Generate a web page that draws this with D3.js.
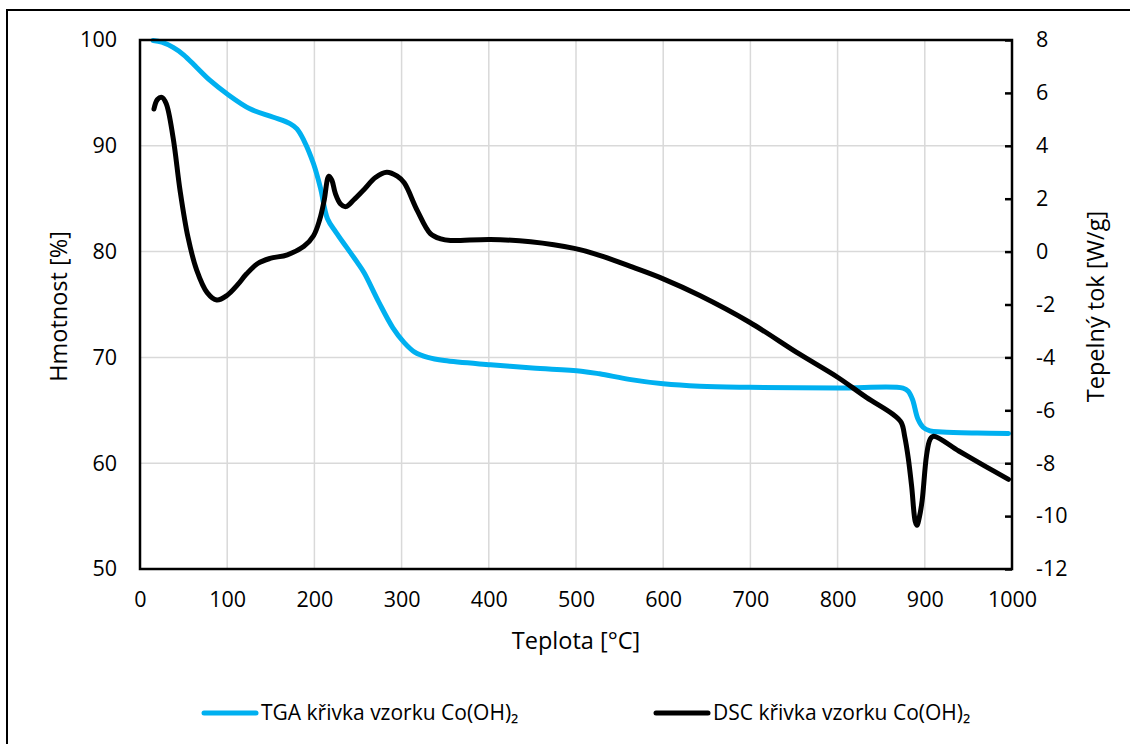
<!DOCTYPE html>
<html>
<head>
<meta charset="utf-8">
<script src="https://cdn.jsdelivr.net/npm/d3@7"></script>
<style>
  html, body { margin: 0; padding: 0; background: #fff; }
  svg text { font-family: "Open Sans", "Noto Sans", sans-serif; fill: #000; }
</style>
</head>
<body>
<svg id="chart" width="1130" height="744"></svg>
<script>
// Thermogravimetric (TGA) curve: temperature [°C] and remaining mass [%]
const tgaTemp = [15, 25, 38, 50, 65, 80, 100, 126, 153, 172, 180, 188, 199, 207, 215, 225, 237, 249, 257, 274, 290, 303, 315, 330, 349, 402, 450, 506, 527, 563, 600, 642, 699, 800, 875, 881, 886, 892, 898, 906, 920, 960, 996];
const tgaMass = [99.95, 99.8, 99.3, 98.6, 97.4, 96.2, 94.9, 93.5, 92.7, 92.1, 91.6, 90.5, 88.3, 86.0, 83.1, 81.8, 80.4, 79.0, 78.0, 75.2, 72.8, 71.4, 70.5, 70.0, 69.7, 69.3, 69.0, 68.7, 68.45, 67.9, 67.5, 67.27, 67.17, 67.1, 67.1, 66.8, 66.0, 64.2, 63.4, 63.05, 62.95, 62.85, 62.8];

// Differential scanning calorimetry (DSC) curve: temperature [°C] and heat flow [W/g]
const dscTemp = [16, 20, 25, 30, 38, 46, 55, 65, 77, 88, 100, 112, 122, 135, 149, 169, 188, 199, 206, 211, 216.5, 220, 224, 230, 236, 245, 257, 270, 283, 295, 303, 318, 333, 345, 356, 402, 448, 498, 527, 565, 600, 642, 699, 756, 800, 833, 863, 873, 877, 881, 885, 889, 891, 894, 897, 902, 906, 910, 939, 969, 996];
const dscFlow = [5.39, 5.75, 5.83, 5.6, 4.3, 2.3, 0.55, -0.7, -1.55, -1.83, -1.65, -1.25, -0.85, -0.45, -0.26, -0.12, 0.2, 0.6, 1.2, 1.9, 2.85, 2.7, 2.2, 1.8, 1.7, 1.95, 2.35, 2.8, 3.0, 2.85, 2.6, 1.55, 0.68, 0.48, 0.42, 0.46, 0.37, 0.12, -0.14, -0.59, -1.03, -1.66, -2.67, -3.87, -4.75, -5.51, -6.14, -6.46, -7.0, -7.8, -8.9, -10.2, -10.35, -10.0, -9.4, -7.7, -7.1, -6.98, -7.54, -8.11, -8.61];

// Axis ticks
const xTicks = [0, 100, 200, 300, 400, 500, 600, 700, 800, 900, 1000];
const massTicks = [50, 60, 70, 80, 90, 100];
const flowTicks = [-12, -10, -8, -6, -4, -2, 0, 2, 4, 6, 8];

// Labels
const xTitle = "Teplota [°C]";
const massTitle = "Hmotnost [%]";
const flowTitle = "Tepelný tok [W/g]";
const seriesNames = ["TGA křivka vzorku Co(OH)₂", "DSC křivka vzorku Co(OH)₂"];
const seriesColors = ["#00B0F0", "#000000"];

const svg = d3.select("#chart");
const plot = { left: 140, right: 1012, top: 40, bottom: 569 };

const x = d3.scaleLinear().domain([0, 1000]).range([plot.left, plot.right]);
const yMass = d3.scaleLinear().domain([50, 100]).range([plot.bottom, plot.top]);
const yFlow = d3.scaleLinear().domain([-12, 8]).range([plot.bottom, plot.top]);

// Outer chart border
svg.append("rect")
  .attr("x", 7).attr("y", 10).attr("width", 1135).attr("height", 745)
  .attr("fill", "none").attr("stroke", "#000").attr("stroke-width", 2);

// Gridlines
const grid = svg.append("g").attr("stroke", "#d9d9d9").attr("stroke-width", 1.5);
grid.selectAll("line.v").data(xTicks.slice(1, -1)).join("line")
  .attr("x1", d => x(d)).attr("x2", d => x(d))
  .attr("y1", plot.top).attr("y2", plot.bottom);
grid.selectAll("line.h").data(massTicks.slice(1, -1)).join("line")
  .attr("x1", plot.left).attr("x2", plot.right)
  .attr("y1", d => yMass(d)).attr("y2", d => yMass(d));

// Curves
const curve = d3.curveCatmullRom.alpha(0.5);
const tgaLine = d3.line().curve(curve).x((d, i) => x(tgaTemp[i])).y(d => yMass(d));
const dscLine = d3.line().curve(curve).x((d, i) => x(dscTemp[i])).y(d => yFlow(d));

svg.append("path").datum(tgaMass)
  .attr("d", tgaLine).attr("fill", "none")
  .attr("stroke", seriesColors[0]).attr("stroke-width", 5)
  .attr("stroke-linejoin", "round").attr("stroke-linecap", "round");
svg.append("path").datum(dscFlow)
  .attr("d", dscLine).attr("fill", "none")
  .attr("stroke", seriesColors[1]).attr("stroke-width", 5)
  .attr("stroke-linejoin", "round").attr("stroke-linecap", "round");

// Plot frame
svg.append("rect")
  .attr("x", plot.left).attr("y", plot.top)
  .attr("width", plot.right - plot.left).attr("height", plot.bottom - plot.top)
  .attr("fill", "none").attr("stroke", "#000").attr("stroke-width", 2.5);

// Axes
const fontSize = 21.5;
const xAxis = svg.append("g").attr("transform", `translate(0,${plot.bottom})`)
  .call(d3.axisBottom(x).tickValues(xTicks).tickSize(0).tickPadding(23).tickFormat(d3.format("d")));
const leftAxis = svg.append("g").attr("transform", `translate(${plot.left},0)`)
  .call(d3.axisLeft(yMass).tickValues(massTicks).tickSize(0).tickPadding(23).tickFormat(d3.format("d")));
const rightAxis = svg.append("g").attr("transform", `translate(${plot.right},0)`)
  .call(d3.axisRight(yFlow).tickValues(flowTicks).tickSize(-7).tickPadding(24).tickFormat(d3.format("d")));

[xAxis, leftAxis, rightAxis].forEach(a => {
  a.select(".domain").remove();
  a.selectAll("text").attr("font-size", fontSize).attr("font-family", null).style("fill", "#000");
  a.selectAll("line").attr("stroke", "#000").attr("stroke-width", 2.5);
});
rightAxis.selectAll("text").text(d => d < 0 ? "-" + Math.abs(d) : d);

// Axis titles
const titleSize = 23.5;
svg.append("text").attr("x", x(500)).attr("y", 649)
  .attr("text-anchor", "middle").attr("font-size", titleSize).text(xTitle);
svg.append("text").attr("transform", `translate(67,${(plot.top + plot.bottom) / 2 + 2}) rotate(-90)`)
  .attr("text-anchor", "middle").attr("font-size", titleSize).text(massTitle);
svg.append("text").attr("transform", `translate(1104,${(plot.top + plot.bottom) / 2 + 2}) rotate(-90)`)
  .attr("text-anchor", "middle").attr("font-size", titleSize).text(flowTitle);

// Legend
const legendItems = [
  { name: seriesNames[0], color: seriesColors[0], x0: 204 },
  { name: seriesNames[1], color: seriesColors[1], x0: 656 }
];
const legend = svg.append("g");
legendItems.forEach(item => {
  legend.append("line")
    .attr("x1", item.x0).attr("x2", item.x0 + 52)
    .attr("y1", 713).attr("y2", 713)
    .attr("stroke", item.color).attr("stroke-width", 5).attr("stroke-linecap", "round");
  legend.append("text")
    .attr("x", item.x0 + 57).attr("y", 713).attr("dy", "0.35em")
    .attr("font-size", 21).text(item.name);
});
</script>
</body>
</html>
